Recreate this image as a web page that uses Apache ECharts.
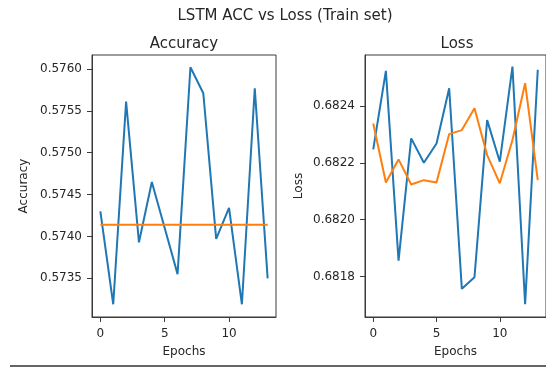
<!DOCTYPE html>
<html>
<head>
<meta charset="utf-8">
<script src="https://cdn.jsdelivr.net/npm/echarts@6/dist/echarts.min.js"></script>
<style>
  html, body { margin: 0; padding: 0; background: #fff; }
  #chart { width: 546px; height: 367px; }
</style>
</head>
<body>
<div id="chart"></div>
<script>
// Training history of the LSTM model, one value per epoch
const epochs = [0, 1, 2, 3, 4, 5, 6, 7, 8, 9, 10, 11, 12, 13];

const accTrain = [0.57430, 0.57319, 0.57561, 0.57393, 0.57465, 0.57410, 0.57355,
                  0.57602, 0.57571, 0.57397, 0.57434, 0.57319, 0.57577, 0.57350];
const accBaseline = [0.57414, 0.57414, 0.57414, 0.57414, 0.57414, 0.57414, 0.57414,
                     0.57414, 0.57414, 0.57414, 0.57414, 0.57414, 0.57414, 0.57414];

const lossTrain = [0.682247, 0.682523, 0.681856, 0.682286, 0.682200, 0.682268, 0.682462,
                   0.681757, 0.681798, 0.682350, 0.682204, 0.682538, 0.681703, 0.682527];
const lossSmooth = [0.682338, 0.682131, 0.682212, 0.682124, 0.682139, 0.682131, 0.682301,
                    0.682315, 0.682392, 0.682227, 0.682128, 0.682280, 0.682480, 0.682139];

// Tick positions
const epochTicks = [0, 5, 10];
const accTicks = [0.5735, 0.5740, 0.5745, 0.5750, 0.5755, 0.5760];
const lossTicks = [0.6818, 0.6820, 0.6822, 0.6824];

const FONT = 'DejaVu Sans';
const TEXT = '#262626';
const AXIS = '#3a3a3a';
const BLUE = '#1f77b4';
const ORANGE = '#ff7f0e';

const pairs = (ys) => epochs.map((e, i) => [e, ys[i]]);

function xAxisFor(gridIndex) {
  return {
    type: 'value', gridIndex,
    min: -0.65, max: 13.65,
    name: 'Epochs', nameLocation: 'middle', nameGap: 29,
    nameTextStyle: { fontFamily: FONT, fontSize: 12, color: TEXT },
    axisLine: { show: true, onZero: false, lineStyle: { color: AXIS, width: 1 } },
    axisTick: { show: true, inside: false, length: 5, customValues: epochTicks, lineStyle: { color: AXIS } },
    axisLabel: { customValues: epochTicks, margin: 11, fontFamily: FONT, fontSize: 12, color: TEXT },
    splitLine: { show: false }
  };
}

function yAxisFor(gridIndex, name, min, max, ticks, gap) {
  return {
    type: 'value', gridIndex, min, max,
    name, nameLocation: 'middle', nameGap: gap,
    nameTextStyle: { fontFamily: FONT, fontSize: 12, color: TEXT },
    axisLine: { show: true, onZero: false, lineStyle: { color: AXIS, width: 1 } },
    axisTick: { show: true, inside: false, length: 5, customValues: ticks, lineStyle: { color: AXIS } },
    axisLabel: {
      customValues: ticks, margin: 10, fontFamily: FONT, fontSize: 12, color: TEXT,
      formatter: (v) => v.toFixed(4)
    },
    splitLine: { show: false }
  };
}

function lineSeries(xi, yi, data, color) {
  return {
    type: 'line', xAxisIndex: xi, yAxisIndex: yi,
    data: pairs(data), showSymbol: false, symbol: 'none',
    lineStyle: { color, width: 2 }, itemStyle: { color },
    animation: false, clip: true
  };
}

const chart = echarts.init(document.getElementById('chart'), null, { renderer: 'canvas' });
chart.setOption({
  animation: false,
  backgroundColor: '#fff',
  title: [
    { text: 'LSTM ACC vs Loss (Train set)', left: 285, top: 9, textAlign: 'center', padding: 0,
      textStyle: { fontFamily: FONT, fontSize: 15, fontWeight: 'normal', color: TEXT } },
    { text: 'Accuracy', left: 184, top: 37, textAlign: 'center', padding: 0,
      textStyle: { fontFamily: FONT, fontSize: 15, fontWeight: 'normal', color: TEXT } },
    { text: 'Loss', left: 457, top: 37, textAlign: 'center', padding: 0,
      textStyle: { fontFamily: FONT, fontSize: 15, fontWeight: 'normal', color: TEXT } }
  ],
  grid: [
    { left: 92, top: 55, width: 184, height: 262, show: true, borderColor: AXIS, borderWidth: 1, containLabel: false },
    { left: 365, top: 55, width: 184, height: 262, show: true, borderColor: AXIS, borderWidth: 1, containLabel: false }
  ],
  xAxis: [xAxisFor(0), xAxisFor(1)],
  yAxis: [
    yAxisFor(0, 'Accuracy', 0.573038, 0.576167, accTicks, 62),
    yAxisFor(1, 'Loss', 0.681658, 0.682579, lossTicks, 60)
  ],
  series: [
    lineSeries(0, 0, accTrain, BLUE),
    lineSeries(0, 0, accBaseline, ORANGE),
    lineSeries(1, 1, lossTrain, BLUE),
    lineSeries(1, 1, lossSmooth, ORANGE)
  ],
  graphic: [
    { type: 'line', shape: { x1: 10, y1: 366, x2: 546, y2: 366 },
      style: { stroke: '#666', lineWidth: 2 }, silent: true }
  ]
});
</script>
</body>
</html>
